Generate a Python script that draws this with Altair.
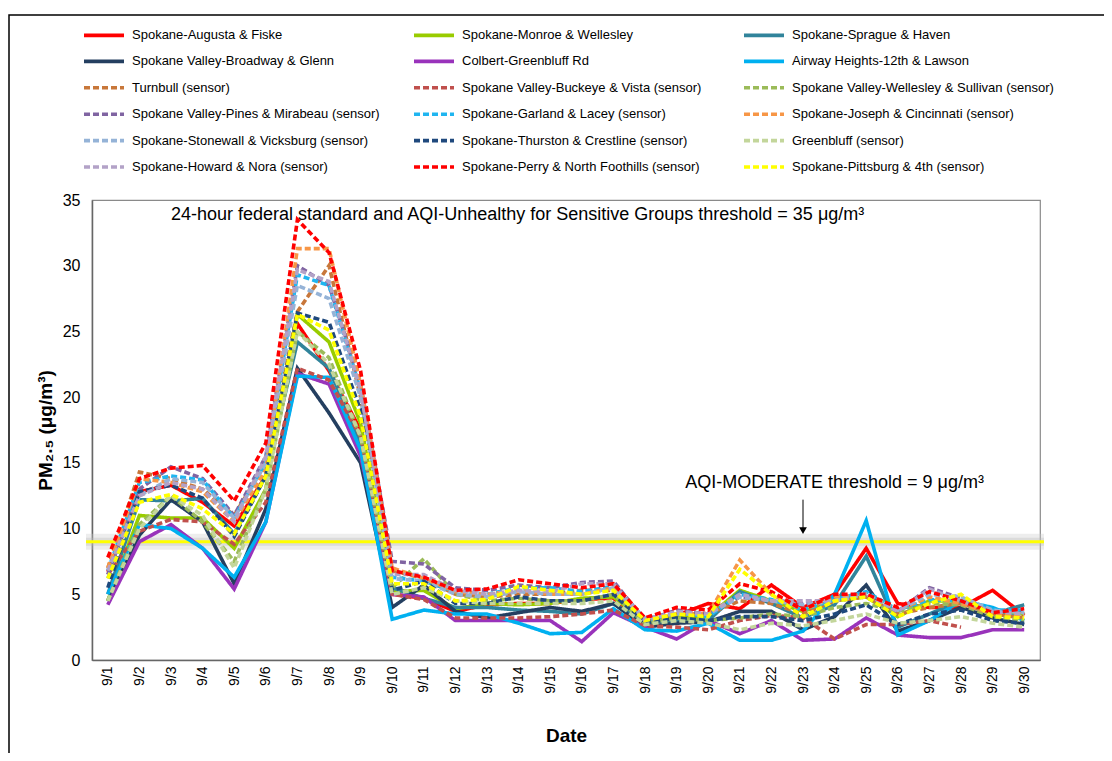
import altair as alt
import pandas as pd

dates = ["9/1", "9/2", "9/3", "9/4", "9/5", "9/6", "9/7", "9/8", "9/9", "9/10",
         "9/11", "9/12", "9/13", "9/14", "9/15", "9/16", "9/17", "9/18", "9/19", "9/20",
         "9/21", "9/22", "9/23", "9/24", "9/25", "9/26", "9/27", "9/28", "9/29", "9/30"]

# legend order (row-major, 3 columns)
series_names = [
    "Spokane-Augusta & Fiske", "Spokane-Monroe & Wellesley", "Spokane-Sprague & Haven",
    "Spokane Valley-Broadway & Glenn", "Colbert-Greenbluff Rd", "Airway Heights-12th & Lawson",
    "Turnbull (sensor)", "Spokane Valley-Buckeye & Vista (sensor)", "Spokane Valley-Wellesley & Sullivan (sensor)",
    "Spokane Valley-Pines & Mirabeau (sensor)", "Spokane-Garland & Lacey (sensor)", "Spokane-Joseph & Cincinnati (sensor)",
    "Spokane-Stonewall & Vicksburg (sensor)", "Spokane-Thurston & Crestline (sensor)", "Greenbluff (sensor)",
    "Spokane-Howard & Nora (sensor)", "Spokane-Perry & North Foothills (sensor)", "Spokane-Pittsburg & 4th (sensor)",
]

series_colors = [
    "#FF0000", "#99CC00", "#31849B",
    "#243F60", "#9933BB", "#00B0F0",
    "#C8773A", "#C0504D", "#9BBB59",
    "#8064A2", "#1FB5F0", "#F79646",
    "#95B3D7", "#1F497D", "#C3D69B",
    "#B3A2C7", "#FF0000", "#FFFF00",
]

augusta = [6.7, 12.8, 13.3, 12.0, 10.2, 14.0, 25.6, 22.0, 17.5, 5.0, 4.7, 3.7, 4.2, 4.3, 4.3, 4.6, 4.7, 2.7, 3.4, 4.3, 3.9, 5.7, 4.0, 5.0, 8.5, 4.3, 4.0, 4.0, 5.3, 3.4]
monroe = [4.5, 11.0, 10.8, 10.8, 8.5, 13.0, 26.3, 24.2, 18.0, 5.2, 5.3, 3.9, 4.3, 4.2, 4.3, 4.7, 4.8, 2.9, 3.3, 3.3, 5.3, 4.5, 3.7, 4.5, 4.8, 3.3, 4.5, 4.5, 3.8, 3.5]
sprague = [5.0, 12.2, 12.1, 12.3, 9.6, 14.0, 24.2, 22.2, 16.5, 5.5, 4.7, 4.0, 4.0, 3.8, 3.7, 3.5, 4.3, 2.8, 3.0, 3.0, 5.2, 4.3, 3.2, 4.2, 7.9, 2.5, 3.5, 4.5, 3.5, 4.2]
broadway = [4.5, 9.5, 12.2, 10.5, 5.8, 11.5, 22.2, 18.8, 15.0, 4.0, 5.7, 3.7, 3.2, 3.6, 4.0, 3.7, 4.3, 2.5, 2.8, 2.9, 3.7, 3.7, 2.3, 3.3, 5.7, 2.2, 3.0, 4.0, 3.2, 2.7]
colbert = [4.2, 9.0, 10.3, 8.5, 5.4, 10.5, 21.8, 21.0, 15.5, 5.0, 4.8, 3.0, 3.0, 3.0, 3.0, 1.4, 3.6, 2.5, 1.6, 3.0, 2.0, 3.0, 1.5, 1.6, 3.2, 1.9, 1.7, 1.7, 2.3, 2.3]
airway = [5.0, 10.3, 10.0, 8.5, 6.3, 10.5, 21.6, 21.5, 16.0, 3.1, 3.8, 3.5, 3.5, 2.8, 2.0, 2.1, 3.9, 2.3, 2.2, 2.8, 1.5, 1.5, 2.2, 5.0, 10.6, 1.9, 3.0, 4.5, 4.0, 3.0]
turnbull = [7.0, 14.3, 13.8, 13.0, 11.0, 15.0, 26.5, 30.0, 20.0, 6.8, 6.2, 5.0, 4.8, 5.0, 5.0, 5.3, 5.3, 2.9, 3.5, 3.5, 4.5, 4.3, 3.5, 4.5, 4.8, 3.5, 4.0, 4.3, 3.5, 3.2]
buckeye = [6.5, 9.8, 10.7, 10.5, 8.8, 12.0, 22.2, 21.3, 17.0, 5.0, 4.6, 3.2, 3.2, 3.2, 3.3, 3.5, 3.8, 2.6, 2.5, 2.3, 3.0, 3.4, 3.2, 1.6, 2.7, 2.7, 3.0, 2.5, None, None]
wellesley_sullivan = [4.5, 10.3, 12.5, 10.5, 7.5, 13.0, 25.0, 23.0, 17.0, 5.5, 7.7, 5.0, 4.5, 4.7, 4.5, 4.5, 5.0, 2.8, 3.2, 3.0, 3.2, 3.5, 3.3, 4.0, 4.3, 3.7, 4.3, 4.2, 3.3, 3.0]
pines = [6.5, 13.0, 14.7, 13.8, 11.0, 15.5, 30.0, 28.5, 21.0, 7.5, 7.3, 5.5, 5.3, 5.7, 5.5, 5.9, 6.0, 3.0, 3.8, 3.5, 4.8, 4.5, 4.3, 4.6, 5.0, 3.7, 5.5, 4.7, 3.7, 3.5]
garland = [6.8, 13.5, 14.0, 13.7, 10.8, 15.0, 29.3, 28.5, 20.5, 6.3, 6.0, 5.2, 5.0, 5.5, 5.5, 5.2, 5.6, 3.0, 3.6, 3.3, 5.0, 4.6, 3.8, 4.6, 5.2, 3.8, 4.6, 4.5, 3.8, 3.8]
joseph = [7.0, 13.8, 13.5, 12.8, 10.5, 14.5, 31.3, 31.3, 21.0, 7.0, 6.2, 5.2, 5.0, 5.3, 5.0, 5.0, 5.5, 3.0, 3.5, 3.5, 7.6, 5.0, 3.8, 4.8, 5.0, 3.8, 4.8, 4.3, 3.5, 3.4]
stonewall = [6.2, 12.5, 13.8, 13.5, 10.8, 15.0, 28.5, 27.5, 20.0, 6.2, 6.0, 5.0, 4.8, 5.2, 5.0, 5.0, 5.5, 3.2, 3.5, 3.5, 4.8, 4.5, 4.2, 4.5, 5.0, 3.8, 5.0, 4.8, 3.8, 3.6]
thurston = [5.5, 12.8, 13.3, 12.3, 9.4, 14.0, 26.4, 25.7, 19.0, 5.3, 6.0, 4.3, 4.3, 4.8, 4.5, 4.5, 5.0, 2.8, 3.2, 3.0, 3.3, 3.3, 3.0, 3.5, 4.2, 2.7, 3.5, 3.8, 3.0, 2.8]
greenbluff = [4.5, 10.0, 12.5, 11.0, 7.0, 13.0, 25.0, 22.5, 17.0, 5.0, 5.5, 4.5, 4.3, 4.3, 4.3, 4.3, 4.5, 2.7, 3.0, 2.8, 2.3, 2.8, 2.6, 3.0, 3.5, 2.8, 3.0, 3.3, 2.8, 2.5]
howard = [6.8, 12.5, 13.5, 13.0, 10.5, 15.5, 29.7, 28.8, 20.5, 6.5, 6.5, 5.3, 5.0, 5.3, 5.2, 5.8, 5.8, 3.0, 3.7, 3.5, 5.0, 4.5, 4.5, 4.5, 5.0, 3.7, 5.4, 4.5, 3.7, 3.5]
perry = [7.8, 13.8, 14.6, 14.8, 12.1, 16.5, 33.5, 31.0, 22.0, 6.8, 6.3, 5.3, 5.4, 6.1, 5.8, 5.5, 5.8, 3.2, 4.0, 3.8, 5.8, 5.2, 3.8, 5.0, 5.0, 4.0, 5.2, 4.5, 3.6, 3.9]
pittsburg = [6.2, 12.0, 12.6, 11.5, 9.6, 14.0, 26.3, 25.1, 18.5, 5.8, 5.8, 4.5, 4.6, 5.6, 5.3, 5.0, 5.3, 3.0, 3.5, 3.3, 6.9, 5.0, 3.3, 4.5, 4.8, 3.3, 4.3, 5.0, 3.3, 3.2]

series_values = [augusta, monroe, sprague, broadway, colbert, airway,
                 turnbull, buckeye, wellesley_sullivan, pines, garland, joseph,
                 stonewall, thurston, greenbluff, howard, perry, pittsburg]
monitor_flags = [True] * 6 + [False] * 12

y_ticks = [0, 5, 10, 15, 20, 25, 30, 35]
moderate_threshold = 9

rows = []
for name, vals, mon in zip(series_names, series_values, monitor_flags):
    for d, v in zip(dates, vals):
        if v is not None:
            rows.append({"date": d, "value": v, "series": name, "monitor": mon})
df = pd.DataFrame(rows)

FONT = "Liberation Sans"
W, H = 948, 460

dash_range = [[1, 0] if m else [6, 3] for m in monitor_flags]
width_range = [3.6 if m else 2 for m in monitor_flags]

xenc = alt.X("date:O", sort=dates,
             scale=alt.Scale(type="point", domain=dates, padding=0.5),
             axis=alt.Axis(title="Date", labelAngle=270, labelFontSize=14, labelFont=FONT,
                           labelColor="black", labelPadding=6, ticks=False,
                           domainColor="#666666", domainWidth=1.5,
                           titleFont=FONT, titleFontSize=19, titleFontWeight="bold",
                           titleY=75, titleBaseline="middle", grid=False))
yenc = alt.Y("value:Q",
             scale=alt.Scale(domain=[0, 35], nice=False),
             axis=alt.Axis(title="PM₂.₅ (μg/m³)", values=y_ticks, labelFontSize=16, labelFont=FONT,
                           labelColor="black", labelPadding=12, ticks=False,
                           domainColor="#666666", domainWidth=1.5,
                           gridColor="#9a9a9a", gridWidth=1.4,
                           titleFont=FONT, titleFontSize=19, titleFontWeight="bold",
                           titleX=-47, titleY=230, titleAngle=270, titleAlign="center",
                           titleBaseline="middle"))

legend = alt.Legend(title=None, orient="none", direction="horizontal", legendX=0, legendY=-177,
                    columns=3, symbolType="M-2,0H2", symbolSize=400, labelFont=FONT,
                    labelFontSize=13, labelFontWeight="normal",
                    labelColor="black", labelOffset=16, labelLimit=400, gridAlign="all",
                    columnPadding=12, rowPadding=6.4, padding=0)

color = alt.Color("series:N", scale=alt.Scale(domain=series_names, range=series_colors), legend=legend)
dash = alt.StrokeDash("series:N", scale=alt.Scale(domain=series_names, range=dash_range), legend=legend)
swidth = alt.StrokeWidth("series:N", scale=alt.Scale(domain=series_names, range=width_range), legend=legend)

base = alt.Chart(df)
solid_lines = base.transform_filter("datum.monitor").mark_line().encode(
    x=xenc, y=yenc, color=color, strokeDash=dash, strokeWidth=swidth)
dashed_lines = base.transform_filter("!datum.monitor").mark_line().encode(
    x=xenc, y=yenc, color=color, strokeDash=dash, strokeWidth=swidth)

one = pd.DataFrame({"k": [0]})

glow = alt.Chart(one).mark_rule(color="#cccccc", strokeWidth=16, opacity=0.35).encode(
    y=alt.datum(moderate_threshold), x=alt.value(-6), x2=alt.value(W + 4))
glow2 = alt.Chart(one).mark_rule(color="#bbbbbb", strokeWidth=8, opacity=0.35).encode(
    y=alt.datum(moderate_threshold), x=alt.value(-6), x2=alt.value(W + 4))
yellow = alt.Chart(one).mark_rule(color="#FFFF00", strokeWidth=3).encode(
    y=alt.datum(moderate_threshold), x=alt.value(-6), x2=alt.value(W + 4))

top_text = alt.Chart(one).mark_text(
    text="24-hour federal standard and AQI-Unhealthy for Sensitive Groups threshold = 35 μg/m³",
    font=FONT, fontSize=18, align="left", baseline="middle", color="black").encode(
    x=alt.datum("9/3"), y=alt.datum(33.85))

mod_text = alt.Chart(one).mark_text(
    text="AQI-MODERATE threshold = 9 μg/m³",
    font=FONT, fontSize=18, align="center", baseline="middle", color="black").encode(
    x=alt.datum("9/24"), y=alt.datum(13.5))

arrow_line = alt.Chart(one).mark_rule(color="black", strokeWidth=1).encode(
    x=alt.datum("9/23"), y=alt.datum(12.2), y2=alt.datum(10.0))
arrow_head = alt.Chart(one).mark_point(shape="triangle-down", filled=True, color="black",
                                       size=60, opacity=1).encode(
    x=alt.datum("9/23"), y=alt.datum(9.85))

frame = alt.Chart(one).mark_rect(fill=None, stroke="black", strokeWidth=1.5).encode(
    x=alt.value(-83), x2=alt.value(W + 200), y=alt.value(-185), y2=alt.value(H + 300))

chart = alt.layer(
    frame, glow, glow2, yellow, solid_lines, dashed_lines,
    top_text, mod_text, arrow_line, arrow_head
).resolve_scale(color="shared").properties(
    width=W, height=H,
    autosize=alt.AutoSizeParams(type="none"),
    padding={"left": 84, "top": 192, "right": 64, "bottom": 93},
    background="white"
).configure_view(stroke="#8a8a8a", strokeWidth=1.2)

chart.save("out.html", embed_options={"renderer": "svg", "actions": False})
